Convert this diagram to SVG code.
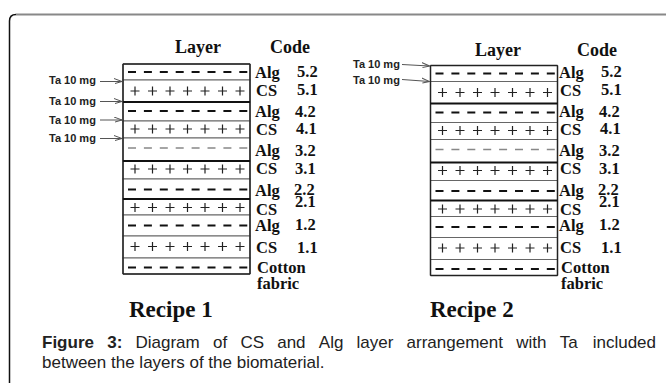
<svg xmlns="http://www.w3.org/2000/svg" xmlns:xlink="http://www.w3.org/1999/xlink" width="668" height="383" viewBox="0 0 668 383">
<style>
.lbl{font-family:"Liberation Serif","Times New Roman",serif;font-weight:bold;font-size:16.5px;fill:#111}
.hdr{font-size:18px}
.rec{font-size:23px}
.ta{font-family:"Liberation Sans",Arial,sans-serif;font-weight:bold;font-size:11px;fill:#222}
.cap{font-family:"Liberation Sans",Arial,sans-serif;font-size:17px;fill:#222}
.row{fill:#fff;stroke:#666;stroke-width:1}
.edge{stroke:#222;stroke-width:1.5;fill:none}
.sep{stroke:#111;stroke-width:2;fill:none}
.arr{stroke:#555;stroke-width:1;fill:none;marker-end:url(#ah)}
</style>
<defs>
<marker id="ah" markerWidth="9" markerHeight="7" refX="8" refY="3.5" orient="auto" markerUnits="userSpaceOnUse">
<path d="M0,0.5 L8,3.5 L1,5.5" fill="none" stroke="#555" stroke-width="1"/>
</marker>
<path id="dash" d="M5 0H124.3" stroke="#111" stroke-width="1.8" stroke-dasharray="8 7.9" fill="none"/>
<path id="dashg" d="M5 0H124.3" stroke="#888" stroke-width="1.5" stroke-dasharray="8 7.9" fill="none"/>
<path id="plus" d="M7.5 0h9M12-4.5v9M25 0h9M29.5-4.5v9M42.5 0h9M47-4.5v9M60 0h9M64.5-4.5v9M77.5 0h9M82-4.5v9M95 0h9M99.5-4.5v9M112.5 0h9M117-4.5v9" stroke="#222" stroke-width="1.2" fill="none"/>
</defs>
<rect width="668" height="383" fill="#fff"/>
<g id="frame">
<path d="M9.5 383V21Q9.5 14.5 16 14.5" stroke="#111" stroke-width="1.5" fill="none"/>
<path d="M16 14.5H666" stroke="#888" stroke-width="2" fill="none"/>
</g>

<g id="recipe1" transform="translate(123,64)">
<g id="r1-alg52"><rect class="row" x="0" y="0" width="127" height="16"/><use xlink:href="#dash" y="8"/></g>
<g id="r1-cs51"><rect class="row" x="0" y="16" width="127" height="22"/><use xlink:href="#plus" y="27"/></g>
<g id="r1-alg42"><rect class="row" x="0" y="38" width="127" height="19"/><use xlink:href="#dash" y="47"/></g>
<g id="r1-cs41"><rect class="row" x="0" y="57" width="127" height="17"/><use xlink:href="#plus" y="65"/></g>
<g id="r1-alg32"><rect class="row" x="0" y="74" width="127" height="23"/><use xlink:href="#dashg" y="84"/></g>
<g id="r1-cs31"><rect class="row" x="0" y="97" width="127" height="18"/><use xlink:href="#plus" y="105"/></g>
<g id="r1-alg22"><rect class="row" x="0" y="115" width="127" height="20"/><use xlink:href="#dash" y="125.5"/></g>
<g id="r1-cs21"><rect class="row" x="0" y="135" width="127" height="16"/><use xlink:href="#plus" y="143.5"/></g>
<g id="r1-alg12"><rect class="row" x="0" y="151" width="127" height="21"/><use xlink:href="#dash" y="161.5"/></g>
<g id="r1-cs11"><rect class="row" x="0" y="172" width="127" height="22"/><use xlink:href="#plus" y="182.5"/></g>
<g id="r1-cotton"><rect class="row" x="0" y="194" width="127" height="16"/><use xlink:href="#dash" y="203.5"/></g>
<path class="edge" d="M0 0V210M127 0V210M0 0H127M0 210H127"/>
<path class="sep" d="M0 38H127M0 97H127M0 135H127"/>
</g>

<g id="recipe2" transform="translate(430.5,65.5)">
<g id="r2-alg52"><rect class="row" x="0" y="0" width="127" height="16"/><use xlink:href="#dash" y="8"/></g>
<g id="r2-cs51"><rect class="row" x="0" y="16" width="127" height="22"/><use xlink:href="#plus" y="27"/></g>
<g id="r2-alg42"><rect class="row" x="0" y="38" width="127" height="19"/><use xlink:href="#dash" y="47"/></g>
<g id="r2-cs41"><rect class="row" x="0" y="57" width="127" height="17"/><use xlink:href="#plus" y="65"/></g>
<g id="r2-alg32"><rect class="row" x="0" y="74" width="127" height="23"/><use xlink:href="#dashg" y="84"/></g>
<g id="r2-cs31"><rect class="row" x="0" y="97" width="127" height="18"/><use xlink:href="#plus" y="105"/></g>
<g id="r2-alg22"><rect class="row" x="0" y="115" width="127" height="20"/><use xlink:href="#dash" y="125.5"/></g>
<g id="r2-cs21"><rect class="row" x="0" y="135" width="127" height="16"/><use xlink:href="#plus" y="143.5"/></g>
<g id="r2-alg12"><rect class="row" x="0" y="151" width="127" height="21"/><use xlink:href="#dash" y="161.5"/></g>
<g id="r2-cs11"><rect class="row" x="0" y="172" width="127" height="22"/><use xlink:href="#plus" y="182.5"/></g>
<g id="r2-cotton"><rect class="row" x="0" y="194" width="127" height="16"/><use xlink:href="#dash" y="203.5"/></g>
<path class="edge" d="M0 0V210M127 0V210M0 0H127M0 210H127"/>
<path class="sep" d="M0 38H127M0 97H127M0 135H127"/>
</g>

<g id="labels1" class="lbl">
<text class="lbl hdr" x="175" y="53">Layer</text>
<text class="lbl hdr" x="270" y="53">Code</text>
<text x="255" y="78">Alg</text><text x="297" y="77">5.2</text>
<text x="256" y="96">CS</text><text x="297" y="95">5.1</text>
<text x="255" y="116.5">Alg</text><text x="295" y="116.5">4.2</text>
<text x="256" y="134.5">CS</text><text x="296" y="134">4.1</text>
<text x="255" y="156">Alg</text><text x="295" y="156">3.2</text>
<text x="256" y="174">CS</text><text x="295" y="173.5">3.1</text>
<text x="255" y="196">Alg</text><text x="294" y="195">2.2</text>
<text x="256" y="215">CS</text><text x="295" y="206.5">2.1</text>
<text x="255" y="230.5">Alg</text><text x="295" y="230">1.2</text>
<text x="256" y="253">CS</text><text x="297" y="253">1.1</text>
<text x="257" y="273">Cotton</text>
<text x="257" y="288.5">fabric</text>
<text class="lbl rec" x="129" y="317">Recipe 1</text>
</g>

<g id="labels2" class="lbl">
<text class="lbl hdr" x="475" y="56">Layer</text>
<text class="lbl hdr" x="577" y="56">Code</text>
<g transform="translate(304,0)">
<text x="255" y="78">Alg</text><text x="297" y="77">5.2</text>
<text x="256" y="96">CS</text><text x="297" y="95">5.1</text>
<text x="255" y="116.5">Alg</text><text x="295" y="116.5">4.2</text>
<text x="256" y="134.5">CS</text><text x="296" y="134">4.1</text>
<text x="255" y="156">Alg</text><text x="295" y="156">3.2</text>
<text x="256" y="174">CS</text><text x="295" y="173.5">3.1</text>
<text x="255" y="196">Alg</text><text x="294" y="195">2.2</text>
<text x="256" y="215">CS</text><text x="295" y="206.5">2.1</text>
<text x="255" y="230.5">Alg</text><text x="295" y="230">1.2</text>
<text x="256" y="253">CS</text><text x="297" y="253">1.1</text>
<text x="257" y="273">Cotton</text>
<text x="257" y="288.5">fabric</text>
</g>
<text class="lbl rec" x="430" y="317">Recipe 2</text>
</g>

<g id="ta-labels" class="ta">
<text x="49" y="83.5">Ta 10 mg</text>
<text x="49" y="105">Ta 10 mg</text>
<text x="49" y="123.5">Ta 10 mg</text>
<text x="49" y="142">Ta 10 mg</text>
<text x="353" y="68">Ta 10 mg</text>
<text x="353" y="84">Ta 10 mg</text>
</g>

<g id="connectors">
<path class="arr" d="M100 81.5H122"/>
<path class="arr" d="M100 101.5H122"/>
<path class="arr" d="M100 120H122"/>
<path class="arr" d="M100 138.5H122"/>
<path class="arr" d="M402 64.5L429.5 66"/>
<path class="arr" d="M402 79.5L429.5 81.5"/>
</g>

<text id="caption" class="cap" y="348"><tspan x="42" font-weight="bold">Figure</tspan><tspan x="107.2" font-weight="bold">3:</tspan><tspan x="135.5">Diagram</tspan><tspan x="213">of</tspan><tspan x="240.4">CS</tspan><tspan x="277.2">and</tspan><tspan x="318.8">Alg</tspan><tspan x="356.6">layer</tspan><tspan x="406.6">arrangement</tspan><tspan x="516.2">with</tspan><tspan x="559.7">Ta</tspan><tspan x="592.7">included</tspan></text>
<text class="cap" x="42" y="367.5">between the layers of the biomaterial.</text>
</svg>
